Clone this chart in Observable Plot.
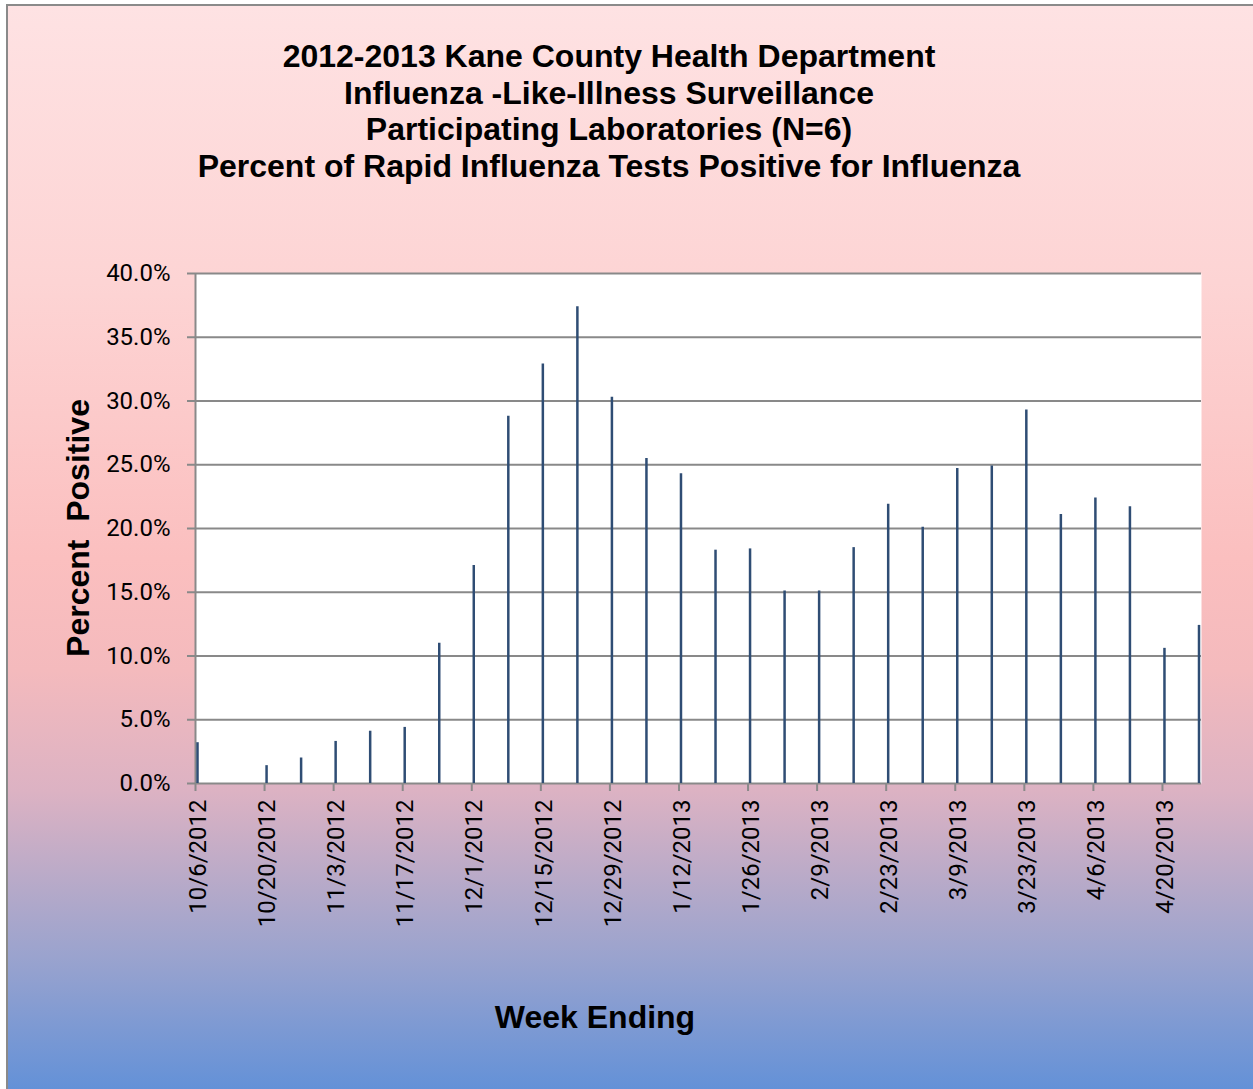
<!DOCTYPE html>
<html>
<head>
<meta charset="utf-8">
<script src="https://cdn.jsdelivr.net/npm/d3@7"></script>
<script src="https://cdn.jsdelivr.net/npm/@observablehq/plot@0.6"></script>
<style>
  html, body { margin: 0; padding: 0; background: #fff; overflow: hidden; }
  #page { position: relative; width: 1253px; height: 1089px; overflow: hidden; }
  #bg {
    position: absolute; left: 6px; top: 4px; width: 1270px; height: 1110px;
    border: 2px solid #8a8a8a; box-sizing: border-box;
    background: linear-gradient(to bottom,
      #fee2e3 0%, #fdd4d4 25%, #fbbfbf 50%, #f4babd 60%, #dcb2c3 71%, #b4a9c9 80%, #9aa3ce 86%, #5a8ed9 100%);
  }
  #title {
    position: absolute; left: 0; width: 1218px; top: 38px;
    text-align: center; font-family: "Liberation Sans", Arial, sans-serif;
    font-weight: bold; font-size: 32px; line-height: 36.7px; color: #000;
  }
  .axlabel {
    position: absolute; font-family: "Liberation Sans", Arial, sans-serif;
    font-weight: bold; font-size: 32px; line-height: 32px; color: #000;
    white-space: pre; transform: translate(-50%, -50%);
  }
  #ylabel { left: 78px; top: 528px; transform: translate(-50%, -50%) rotate(-90deg); }
  #xlabel { left: 595px; top: 1017px; }
  #chart { position: absolute; left: 0; top: 0; }
</style>
</head>
<body>
<div id="page">
  <div id="bg"></div>
  <div id="title">2012-2013 Kane County Health Department<br>Influenza -Like-Illness Surveillance<br>Participating Laboratories (N=6)<br>Percent of Rapid Influenza Tests Positive for Influenza</div>
  <div id="chart"></div>
  <div class="axlabel" id="ylabel">Percent  Positive</div>
  <div class="axlabel" id="xlabel">Week Ending</div>
</div>
<script>
const weekEnding = [
  "2012-10-06", "2012-10-13", "2012-10-20", "2012-10-27", "2012-11-03", "2012-11-10",
  "2012-11-17", "2012-11-24", "2012-12-01", "2012-12-08", "2012-12-15", "2012-12-22",
  "2012-12-29", "2013-01-05", "2013-01-12", "2013-01-19", "2013-01-26", "2013-02-02",
  "2013-02-09", "2013-02-16", "2013-02-23", "2013-03-02", "2013-03-09", "2013-03-16",
  "2013-03-23", "2013-03-30", "2013-04-06", "2013-04-13", "2013-04-20", "2013-04-27"
];
const percentPositive = [
  3.2, 0, 1.4, 2.0, 3.3, 4.1,
  4.4, 11.0, 17.1, 28.8, 32.9, 37.4,
  30.3, 25.5, 24.3, 18.3, 18.4, 15.1,
  15.1, 18.5, 21.9, 20.1, 24.7, 24.9,
  29.3, 21.1, 22.4, 21.7, 10.6, 12.4
];
const tickLabels = [
  "2012-10-06", "2012-10-20", "2012-11-03", "2012-11-17", "2012-12-01",
  "2012-12-15", "2012-12-29", "2013-01-12", "2013-01-26", "2013-02-09",
  "2013-02-23", "2013-03-09", "2013-03-23", "2013-04-06", "2013-04-20"
];
const yTicks = [0, 5, 10, 15, 20, 25, 30, 35, 40];

const parse = d3.utcParse("%Y-%m-%d");
const data = weekEnding.map((w, i) => ({date: parse(w), value: percentPositive[i]}));
const xTicks = tickLabels.map(parse);
const fmtDate = d3.utcFormat("%-m/%-d/%Y");
const d0 = data[0].date, d1 = data[data.length - 1].date;

const chart = Plot.plot({
  width: 1253,
  height: 1089,
  marginLeft: 195,
  marginRight: 52,
  marginTop: 273,
  marginBottom: 306,
  style: {background: "transparent", color: "#000", fontFamily: "Roboto", fontSize: "24px", overflow: "visible"},
  x: {type: "utc", domain: [d0, d1], insetRight: 4.5},
  y: {domain: [0, 40]},
  marks: [
    Plot.frame({fill: "white", stroke: null}),
    Plot.gridY(yTicks, {stroke: "#898989", strokeOpacity: 1, strokeWidth: 2}),
    Plot.ruleX([d0], {stroke: "#898989", strokeWidth: 2}),
    Plot.ruleX(data, {x: "date", y1: 0, y2: "value", stroke: "#2f4d74", strokeWidth: 2.5, dx: 2}),
    Plot.axisY(yTicks, {
      tickSize: 8, tickPadding: 17, stroke: "#898989", strokeWidth: 2, fill: "#000",
      tickFormat: d => d.toFixed(1) + "%", label: null, fontSize: 24
    }),
    Plot.axisX(xTicks, {
      tickSize: 8, tickPadding: 8, tickRotate: -90, stroke: "#898989", strokeWidth: 2, fill: "#000",
      tickFormat: fmtDate, label: null, fontSize: 24
    })
  ]
});
const xl = chart.querySelector('g[aria-label="x-axis tick label"]');
if (xl) {
  const t = xl.getAttribute("transform") || "";
  xl.setAttribute("transform", (t + " translate(3,0)").trim());
}
document.getElementById("chart").appendChild(chart);
</script>
</body>
</html>
